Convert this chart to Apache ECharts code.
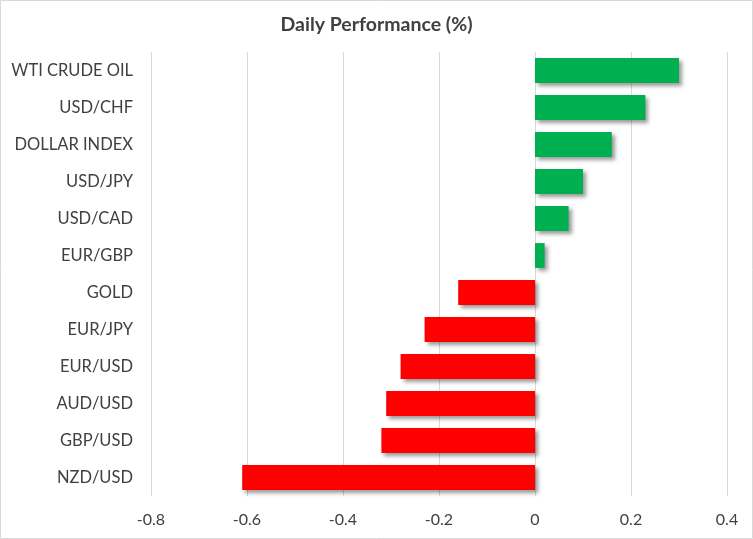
<!DOCTYPE html>
<html>
<head>
<meta charset="utf-8">
<script src="https://cdn.jsdelivr.net/npm/echarts@6/dist/echarts.min.js"></script>
<style>
html,body{margin:0;padding:0;background:#fff;}
#chart{width:753px;height:539px;}
</style>
</head>
<body>
<div id="chart"></div>
<script>
const categories = ["WTI CRUDE OIL","USD/CHF","DOLLAR INDEX","USD/JPY","USD/CAD","EUR/GBP","GOLD","EUR/JPY","EUR/USD","AUD/USD","GBP/USD","NZD/USD"];
const values = [0.30, 0.23, 0.16, 0.10, 0.07, 0.02, -0.16, -0.23, -0.28, -0.31, -0.32, -0.61];
const xTicks = { min: -0.8, max: 0.4, interval: 0.2 };
const titleText = "Daily Performance (%)";

const chart = echarts.init(document.getElementById('chart'), null, {renderer:'canvas'});
const font = 'Lato, "Open Sans", sans-serif';
chart.setOption({
  animation: false,
  backgroundColor: '#ffffff',
  title: {
    text: titleText,
    left: 'center',
    top: 10,
    textStyle: { fontFamily: font, fontSize: 19.5, fontWeight: 'bold', color: '#404040' }
  },
  graphic: [{
    type: 'rect', silent: true, z: 100,
    shape: { x: 0.5, y: 0.5, width: 752, height: 538 },
    style: { fill: 'none', stroke: '#d9d9d9', lineWidth: 1 }
  }],
  grid: { left: 151, right: 26, top: 52, bottom: 43, containLabel: false },
  xAxis: {
    type: 'value',
    min: xTicks.min, max: xTicks.max, interval: xTicks.interval,
    axisLine: { show: false },
    axisTick: { show: false },
    splitLine: { show: true, lineStyle: { color: '#d9d9d9', width: 1 } },
    axisLabel: {
      margin: 16, fontFamily: font, fontSize: 16, color: '#404040',
      formatter: v => { const r = Math.round(v*10)/10; return r === 0 ? '0' : String(r); }
    }
  },
  yAxis: {
    type: 'category',
    data: categories,
    inverse: true,
    axisLine: { show: false },
    axisTick: { show: false },
    splitLine: { show: false },
    axisLabel: { margin: 18, fontFamily: font, fontSize: 16.5, color: '#404040' }
  },
  series: [{
    type: 'bar',
    data: values.map(v => ({
      value: v,
      itemStyle: { color: v >= 0 ? '#00b050' : '#ff0000' }
    })),
    barCategoryGap: '33%',
    itemStyle: {
      shadowColor: 'rgba(0,0,0,0.4)',
      shadowBlur: 4,
      shadowOffsetX: 3,
      shadowOffsetY: 3
    }
  }]
});
</script>
</body>
</html>
